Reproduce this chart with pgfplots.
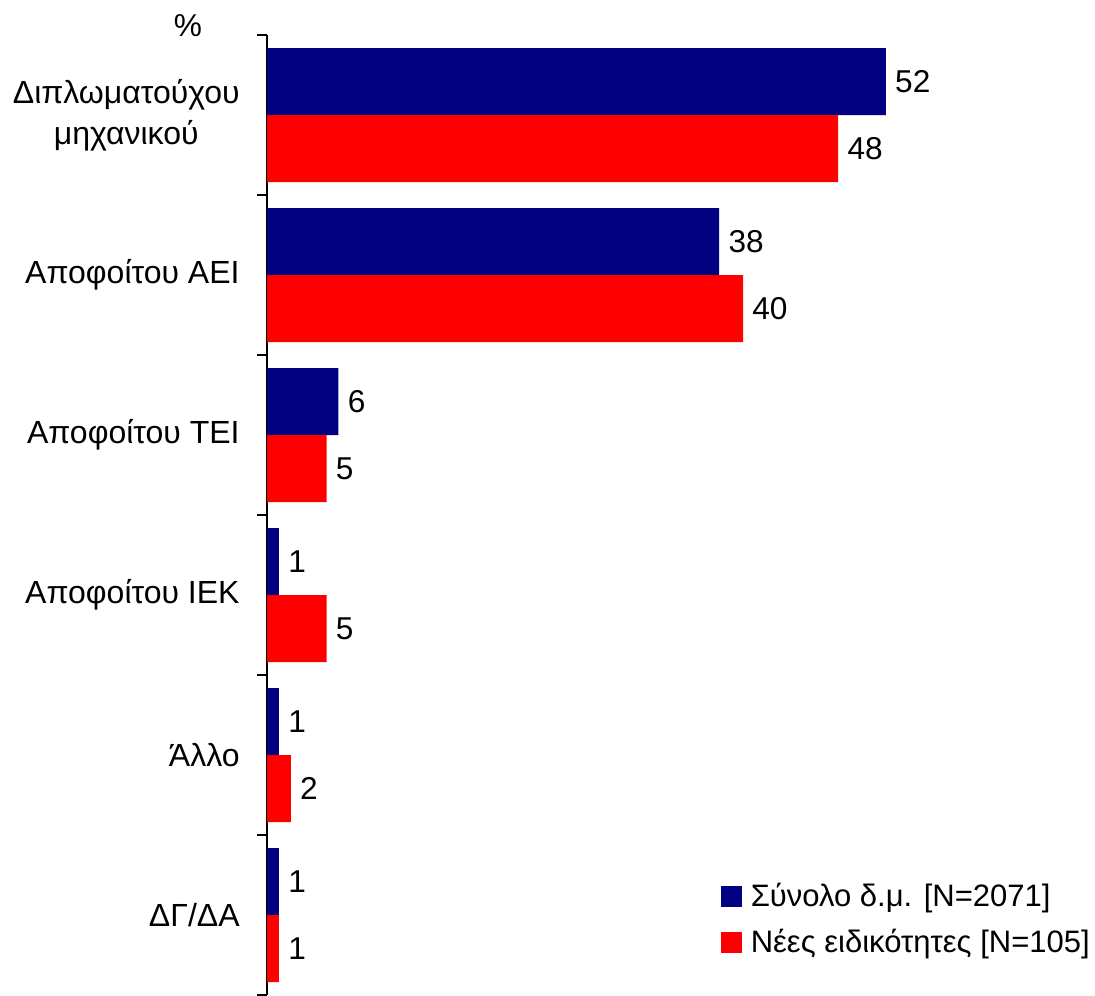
\documentclass[border=0pt]{standalone}
\usepackage{fontspec}
\setmainfont{Liberation Sans}
\usepackage{pgfplots}
\pgfplotsset{compat=1.18}
\definecolor{navyb}{RGB}{0,0,128}
\definecolor{redb}{RGB}{255,0,0}
\newcommand{\ff}{\fontsize{15.8}{18.5}\selectfont}
\newcommand{\fc}{\fontsize{16}{19}\selectfont}
\newcommand{\fl}{\fontsize{15.5}{18.5}\selectfont}
\begin{document}
\begin{tikzpicture}[font=\ff]
\path[use as bounding box] (0,0) rectangle (547.5pt,497.5pt);
\begin{axis}[
  at={(133.5pt,0pt)}, anchor=south west,
  scale only axis, width=357pt, height=480pt,
  xbar, bar width=33.5pt,
  xmin=0, xmax=60,
  ymin=-0.5, ymax=5.5, y dir=reverse,
  enlargelimits=false,
  axis x line=none, axis y line=left,
  y axis line style={-, line width=1pt, black},
  ytick={0,...,5},
  yticklabels={{Διπλωματούχου\\[1.5pt]μηχανικού},Αποφοίτου ΑΕΙ,Αποφοίτου ΤΕΙ,Αποφοίτου ΙΕΚ,Άλλο,ΔΓ/ΔΑ},
  yticklabel style={align=center, font=\fc, inner sep=0pt, xshift=-13.5pt},
  major tick length=0pt,
  minor ytick={-0.5,0.5,...,5.5},
  minor tick length=5pt,
  tick align=outside,
  minor tick style={black, line width=1pt},
  nodes near coords,
  nodes near coords style={font=\ff, anchor=west, inner sep=4.5pt, text=black},
  /pgf/number format/assume math mode=true,
  legend style={draw=none, fill=none, font=\fl, at={(0.635,0.121)}, anchor=north west, row sep=6pt, inner sep=0pt, legend cell align=left,
    nodes={inner sep=2pt}},
  clip=false,
]
\addplot[fill=navyb, draw=none, bar shift=16.75pt, legend image code/.code={\fill[navyb] (0pt,-5.25pt) rectangle (10.5pt,5.25pt);}] coordinates {(52,0) (38,1) (6,2) (1,3) (1,4) (1,5)};
\addplot[fill=redb, draw=none, bar shift=-16.75pt, legend image code/.code={\fill[redb] (0pt,-5.25pt) rectangle (10.5pt,5.25pt);}] coordinates {(48,0) (40,1) (5,2) (5,3) (2,4) (1,5)};
\legend{\hspace{2.5pt}Σύνολο δ.μ. [N=2071], \hspace{2.5pt}Νέες ειδικότητες [N=105]}
\end{axis}
\node at (94pt,484.5pt) {\%};
\end{tikzpicture}
\end{document}
